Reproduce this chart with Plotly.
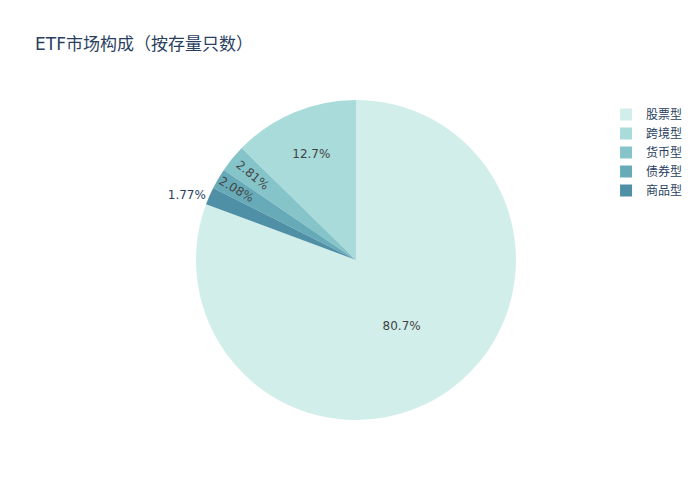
import plotly.graph_objects as go

categories = ["股票型", "跨境型", "货币型", "债券型", "商品型"]
shares = [80.67, 12.67, 2.81, 2.08, 1.77]
colors = ["rgb(209, 238, 234)", "rgb(168, 219, 217)", "rgb(133, 196, 201)",
          "rgb(104, 171, 184)", "rgb(79, 144, 166)"]

fig = go.Figure(go.Pie(labels=categories, values=shares,
                       marker=dict(colors=colors)))
fig.update_layout(title=dict(text="ETF市场构成（按存量只数）", x=27 / 700,
                             y=1 - 36 / 500, yanchor="middle"),
                  font=dict(family="DejaVu Sans, Noto Sans CJK SC, sans-serif"),
                  width=700, height=500,
                  margin=dict(l=72, r=76, t=92, b=88, autoexpand=False),
                  legend=dict(x=0.953, xanchor="left", y=1, yanchor="top"),
                  template="plotly")
fig.write_html("out.html")
